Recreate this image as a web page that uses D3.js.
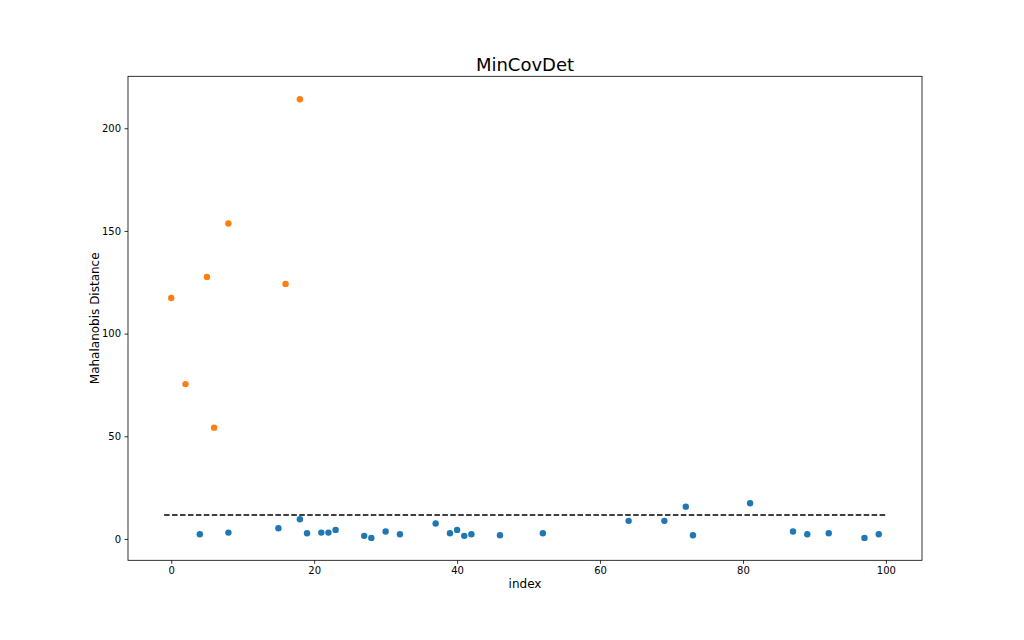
<!DOCTYPE html>
<html>
<head>
<meta charset="utf-8">
<script src="https://cdn.jsdelivr.net/npm/d3@7"></script>
<style>
  html, body { margin: 0; padding: 0; background: #fff; }
  svg { display: block; font-family: "DejaVu Sans", sans-serif; }
</style>
</head>
<body>
<svg id="chart" width="1024" height="640"></svg>
<script>
// ---- data ----
const inlierIndex = [4, 8, 15, 18, 19, 21, 22, 23, 27, 28, 30, 32, 37, 39, 40, 41, 42, 46, 52, 64, 69, 72, 73, 81, 87, 89, 92, 97, 99];
const inlierDist  = [2.3, 3.1, 5.2, 9.6, 2.8, 3.1, 3.1, 4.4, 1.5, 0.5, 3.6, 2.3, 7.5, 2.8, 4.4, 1.5, 2.3, 1.8, 2.8, 8.8, 8.8, 15.7, 1.8, 17.4, 3.6, 2.3, 2.8, 0.5, 2.3];
const outlierIndex = [0, 2, 5, 6, 8, 16, 18];
const outlierDist  = [117.3, 75.4, 127.6, 54.2, 153.6, 124.2, 214.1];
const threshold = 11.7;
const thresholdRange = [-1, 100];
const xTicks = [0, 20, 40, 60, 80, 100];
const yTicks = [0, 50, 100, 150, 200];
const titleText = "MinCovDet";
const xLabelText = "index";
const yLabelText = "Mahalanobis Distance";

(function () {
// ---- layout ----
const pLeft = 128, pRight = 922, pTop = 76.3, pBottom = 560.3;
const svg = d3.select("#chart");

const x = d3.scaleLinear().domain([-6.05, 105.05]).range([pLeft, pRight]);
const y = d3.scaleLinear().domain([-10.4, 225.3]).range([pBottom, pTop]);

// points
const g = svg.append("g");
g.selectAll("circle.in")
  .data(inlierIndex.map((d, i) => ({ x: d, y: inlierDist[i] })))
  .join("circle")
  .attr("class", "in")
  .attr("cx", d => x(d.x)).attr("cy", d => y(d.y)).attr("r", 3.2)
  .attr("fill", "#1f77b4");
g.selectAll("circle.out")
  .data(outlierIndex.map((d, i) => ({ x: d, y: outlierDist[i] })))
  .join("circle")
  .attr("class", "out")
  .attr("cx", d => x(d.x)).attr("cy", d => y(d.y)).attr("r", 3.2)
  .attr("fill", "#ff7f0e");

// threshold line
svg.append("line")
  .attr("x1", x(thresholdRange[0])).attr("x2", x(thresholdRange[1]))
  .attr("y1", y(threshold)).attr("y2", y(threshold))
  .attr("stroke", "#000").attr("stroke-width", 1.5)
  .attr("stroke-dasharray", "5.55,2.4");

// frame
svg.append("rect")
  .attr("x", pLeft).attr("y", pTop)
  .attr("width", pRight - pLeft).attr("height", pBottom - pTop)
  .attr("fill", "none").attr("stroke", "#000").attr("stroke-width", 0.8);

// axes
const xAxis = svg.append("g")
  .attr("transform", `translate(0,${pBottom})`)
  .call(d3.axisBottom(x).tickValues(xTicks).tickSize(3.5).tickPadding(3.5).tickFormat(d3.format("d")));
const yAxis = svg.append("g")
  .attr("transform", `translate(${pLeft},0)`)
  .call(d3.axisLeft(y).tickValues(yTicks).tickSize(3.5).tickPadding(3.5).tickFormat(d3.format("d")));
[xAxis, yAxis].forEach(a => {
  a.select(".domain").remove();
  a.selectAll(".tick line").attr("stroke", "#000").attr("stroke-width", 0.8);
  a.selectAll(".tick text").attr("fill", "#000")
    .style("font-family", "DejaVu Sans").style("font-size", "10px");
});

// labels
svg.append("text")
  .attr("x", (pLeft + pRight) / 2).attr("y", 71)
  .attr("text-anchor", "middle")
  .style("font-size", "18px").attr("fill", "#000")
  .text(titleText);
svg.append("text")
  .attr("x", (pLeft + pRight) / 2).attr("y", 587.5)
  .attr("text-anchor", "middle")
  .style("font-size", "12px").attr("fill", "#000")
  .text(xLabelText);
svg.append("text")
  .attr("transform", `translate(98.5,${(pTop + pBottom) / 2}) rotate(-90)`)
  .attr("text-anchor", "middle")
  .style("font-size", "12px").attr("fill", "#000")
  .text(yLabelText);
})();
</script>
</body>
</html>
